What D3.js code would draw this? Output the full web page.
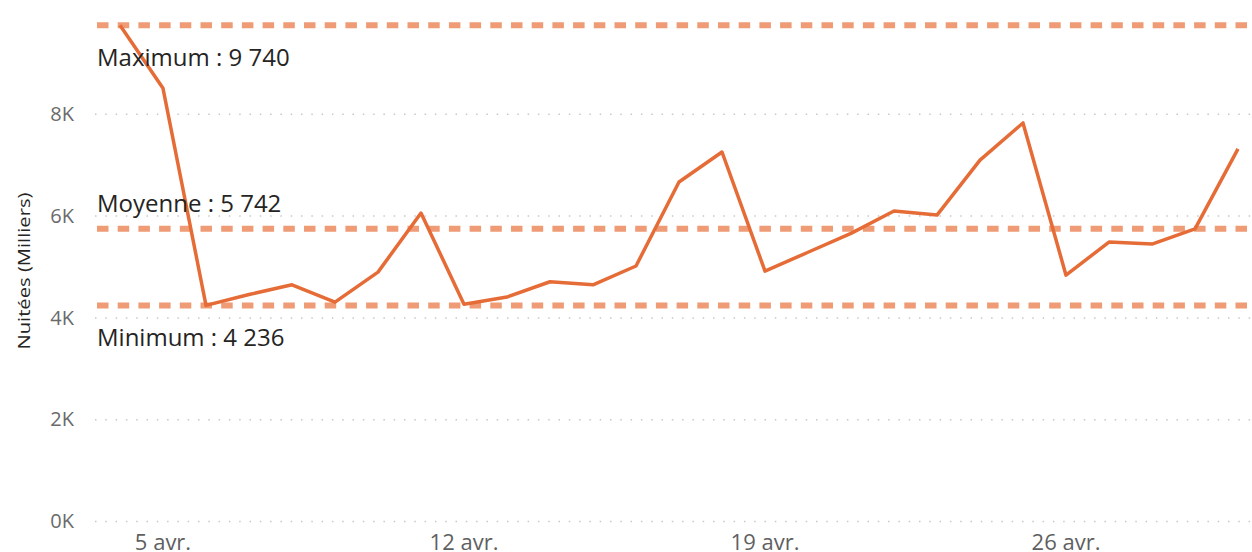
<!DOCTYPE html>
<html><head><meta charset="utf-8">
<script src="https://cdn.jsdelivr.net/npm/d3@7"></script>
<style>body{margin:0;background:#fff;overflow:hidden}svg{display:block}</style>
</head><body>
<svg id="c" width="1252" height="552"></svg>
<script>
const startDate = "2020-04-04";
const values = [9740, 8500, 4236, 4450, 4640, 4300, 4890, 6050, 4260, 4400, 4700, 4640, 5010, 6660, 7250, 4910, 5280, 5650, 6090, 6010, 7090, 7820, 4830, 5480, 5440, 5740, 7310];
const yTicks = [0, 2000, 4000, 6000, 8000];
const yTickLabels = ["0K", "2K", "4K", "6K", "8K"];
const xTickDates = ["2020-04-05", "2020-04-12", "2020-04-19", "2020-04-26"];
const xTickLabels = ["5 avr.", "12 avr.", "19 avr.", "26 avr."];
const refNames = ["Maximum", "Moyenne", "Minimum"];
const refValues = [9740, 5742, 4236];
const refLabels = ["Maximum : 9 740", "Moyenne : 5 742", "Minimum : 4 236"];
const refLabelSide = ["below", "above", "below"];
const yTitle = "Nuitées (Milliers)";

const parse = d3.timeParse("%Y-%m-%d");
const t0 = parse(startDate);
const dates = values.map((v, i) => d3.timeDay.offset(t0, i));
const data = values.map((v, i) => ({date: dates[i], value: v}));

const svg = d3.select("#c");
const x = d3.scaleTime().domain([dates[0], dates[dates.length - 1]]).range([120, 1238]);
const y = d3.scaleLinear().domain([0, 10000]).range([521, 12]);
const font = "'Open Sans', 'Noto Sans', sans-serif";

// gridlines
svg.append("g").selectAll("line").data(yTicks).join("line")
  .attr("x1", 95).attr("x2", 1252)
  .attr("y1", d => y(d) + 0.5).attr("y2", d => y(d) + 0.5)
  .attr("stroke", "#c8c8c8").attr("stroke-width", 1.5)
  .attr("stroke-dasharray", "1.5 8.8");

// y tick labels
svg.append("g").selectAll("text").data(yTicks).join("text")
  .attr("x", 74).attr("y", d => y(d)).attr("dy", "0.36em")
  .attr("text-anchor", "end").attr("font-family", font).attr("font-size", 20)
  .attr("fill", "#6a6a6a").text((d, i) => yTickLabels[i]);

// x tick labels
svg.append("g").selectAll("text").data(xTickDates).join("text")
  .attr("x", d => x(parse(d))).attr("y", 550)
  .attr("text-anchor", "middle").attr("font-family", font).attr("font-size", 22)
  .attr("fill", "#5f5f5f").text((d, i) => xTickLabels[i]);

// y title
svg.append("text")
  .attr("transform", `translate(30, 271) rotate(-90)`)
  .attr("text-anchor", "middle").attr("font-family", font).attr("font-size", 17)
  .attr("textLength", 157).attr("lengthAdjust", "spacingAndGlyphs")
  .attr("fill", "#252423").text(yTitle);

// reference lines
svg.append("g").selectAll("line").data(refValues).join("line")
  .attr("x1", 97).attr("x2", 1252)
  .attr("y1", d => y(d)).attr("y2", d => y(d))
  .attr("stroke", "#EE9B76").attr("stroke-width", 6)
  .attr("stroke-dasharray", "11.5 9.2");

// line
svg.append("path").datum(data)
  .attr("fill", "none").attr("stroke", "#E66C37").attr("stroke-width", 3.5)
  .attr("stroke-linejoin", "round")
  .attr("d", d3.line().x(d => x(d.date)).y(d => y(d.value)));

// reference labels
svg.append("g").selectAll("text").data(refValues).join("text")
  .attr("x", 97)
  .attr("y", (d, i) => refLabelSide[i] === "below" ? y(d) + 41 : y(d) - 17)
  .attr("font-family", font).attr("font-size", 24)
  .attr("fill", "#252423").text((d, i) => refLabels[i]);
</script>
</body></html>
